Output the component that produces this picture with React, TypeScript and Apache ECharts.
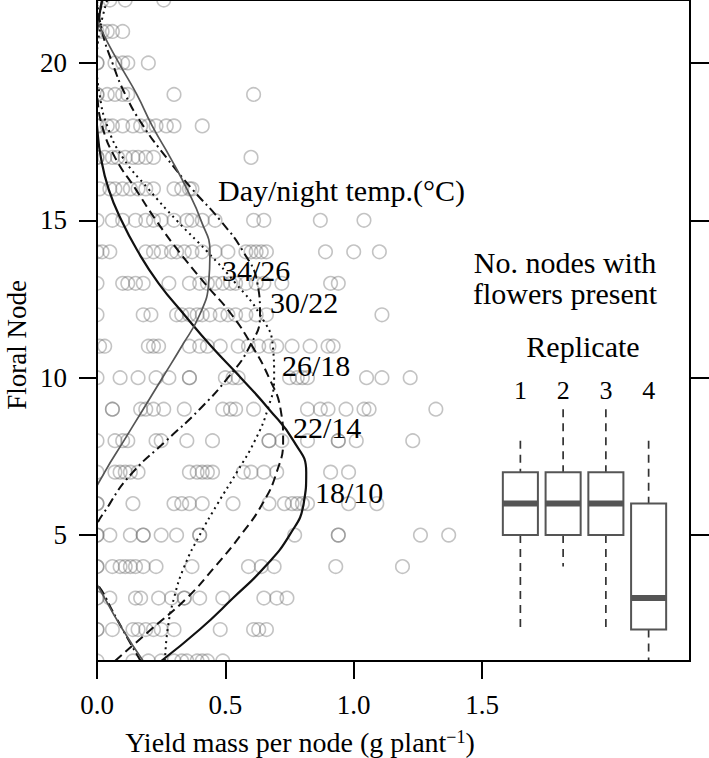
import React, { useEffect, useRef } from "react";
import * as echarts from "echarts";

// ---------- data ----------
const floralNodes = [1, 2, 3, 4, 5, 6, 7, 8, 9, 10, 11, 12, 13, 14, 15, 16, 17, 18, 19, 20, 21, 22];

// yield mass per node (g plant-1) observed at each floral node (index = node - 1)
const scatterYield: number[][] = [
  [0.0, 0.14, 0.2, 0.25, 0.3, 0.33, 0.35, 0.39, 0.41, 0.43, 0.49],
  [0.0, 0.0, 0.06, 0.14, 0.16, 0.19, 0.22, 0.25, 0.3, 0.48, 0.61, 0.63, 0.66],
  [0.0, 0.0, 0.05, 0.15, 0.17, 0.24, 0.29, 0.34, 0.34, 0.4, 0.49, 0.65, 0.7, 0.74],
  [0.0, 0.0, 0.06, 0.09, 0.11, 0.13, 0.15, 0.18, 0.23, 0.37, 0.59, 0.64, 0.69, 0.93, 1.19],
  [0.0, 0.0, 0.05, 0.13, 0.18, 0.18, 0.25, 0.31, 0.4, 0.4, 0.77, 0.94, 0.94, 1.26, 1.37],
  [0.0, 0.0, 0.14, 0.3, 0.33, 0.36, 0.41, 0.53, 0.67, 0.73, 0.76, 0.78, 0.8, 0.82, 0.98, 1.09],
  [0.0, 0.07, 0.09, 0.11, 0.13, 0.16, 0.36, 0.39, 0.41, 0.43, 0.45, 0.57, 0.6, 0.65, 0.7, 0.91, 0.98],
  [0.0, 0.07, 0.1, 0.12, 0.23, 0.25, 0.35, 0.45, 0.67, 0.67, 0.72, 0.82, 0.94, 0.94, 1.01, 1.23],
  [0.06, 0.06, 0.17, 0.19, 0.22, 0.26, 0.34, 0.49, 0.52, 0.54, 0.61, 0.82, 0.87, 0.9, 0.97, 1.04, 1.06, 1.32],
  [0.0, 0.09, 0.16, 0.23, 0.28, 0.36, 0.36, 0.5, 0.53, 0.55, 0.75, 0.78, 0.8, 0.82, 1.05, 1.11, 1.22],
  [0.01, 0.03, 0.2, 0.22, 0.24, 0.36, 0.4, 0.43, 0.48, 0.55, 0.59, 0.63, 0.67, 0.7, 0.76, 0.83, 0.9, 0.92],
  [0.0, 0.18, 0.21, 0.31, 0.33, 0.36, 0.39, 0.41, 0.44, 0.48, 0.51, 0.54, 0.58, 0.62, 0.66, 1.11],
  [0.0, 0.1, 0.12, 0.15, 0.18, 0.28, 0.36, 0.4, 0.43, 0.46, 0.49, 0.52, 0.54, 0.58, 0.62, 0.65, 0.72, 0.91, 0.94],
  [0.0, 0.02, 0.05, 0.19, 0.22, 0.25, 0.29, 0.31, 0.34, 0.37, 0.41, 0.46, 0.51, 0.58, 0.6, 0.62, 0.64, 0.66, 0.89, 1.0, 1.1],
  [0.0, 0.06, 0.1, 0.15, 0.19, 0.22, 0.25, 0.3, 0.35, 0.37, 0.41, 0.46, 0.61, 0.65, 0.87, 1.04],
  [0.01, 0.05, 0.07, 0.1, 0.13, 0.16, 0.19, 0.22, 0.3, 0.33, 0.36, 0.37],
  [0.0, 0.0, 0.03, 0.06, 0.08, 0.11, 0.14, 0.16, 0.19, 0.22, 0.6],
  [0.0, 0.01, 0.04, 0.06, 0.1, 0.14, 0.17, 0.2, 0.23, 0.27, 0.3, 0.41],
  [0.0, 0.0, 0.04, 0.07, 0.1, 0.12, 0.3, 0.61],
  [0.0, 0.0, 0.07, 0.1, 0.12, 0.2],
  [0.0, 0.02, 0.04, 0.06, 0.1],
  [0.02, 0.05, 0.11, 0.26],
];

// fitted curves: yield at each floral node (1..22), by day/night temperature
const curve18_10 = [0.25, 0.4, 0.53, 0.655, 0.75, 0.805, 0.815, 0.765, 0.67, 0.56, 0.445, 0.34, 0.24, 0.16, 0.095, 0.045, 0.015, 0.0, -0.01, -0.01, 0.0, 0.02];
const curve22_14 = [0.07, 0.21, 0.35, 0.46, 0.56, 0.645, 0.7, 0.725, 0.715, 0.67, 0.605, 0.525, 0.42, 0.32, 0.23, 0.15, 0.07, 0.02, 0.0, -0.01, 0.0, 0.02];
const curve26_18 = [0.265, 0.275, 0.3, 0.34, 0.4, 0.47, 0.545, 0.615, 0.665, 0.69, 0.685, 0.635, 0.54, 0.43, 0.31, 0.2, 0.1, 0.04, 0.01, 0.0, 0.01, 0.04];
const curve30_22 = [0.17, 0.1, 0.035, -0.02, -0.01, 0.05, 0.14, 0.27, 0.4, 0.51, 0.595, 0.635, 0.625, 0.57, 0.48, 0.37, 0.27, 0.18, 0.11, 0.06, 0.02, 0.0];
const curve34_26 = [0.18, 0.1, 0.03, -0.03, -0.05, -0.03, 0.03, 0.105, 0.18, 0.255, 0.33, 0.4, 0.435, 0.44, 0.405, 0.35, 0.285, 0.215, 0.155, 0.085, 0.02, -0.03];
const tempLabels = ["18/10", "22/14", "26/18", "30/22", "34/26"];

const xTicks = [0, 0.5, 1, 1.5];
const yTicks = [5, 10, 15, 20];

// boxplot: number of nodes with flowers present, per replicate
const replicates = ["1", "2", "3", "4"];
const boxLow = [2, 4, 2, 1];
const boxQ1 = [5, 5, 5, 2];
const boxMedian = [6, 6, 6, 3];
const boxQ3 = [7, 7, 7, 6];
const boxHigh = [8, 9, 9, 8];

const FONT = "'Liberation Serif', 'Times New Roman', serif";

export default function App() {
  const ref = useRef<HTMLDivElement>(null);

  useEffect(() => {
    document.body.style.margin = "0";
    const chart = echarts.init(ref.current as HTMLDivElement, null, { renderer: "svg" });

    const scatterData: number[][] = [];
    scatterYield.forEach((row, i) => {
      row.forEach((v) => scatterData.push([v, floralNodes[i]]));
    });

    const curves = [curve18_10, curve22_14, curve26_18, curve30_22, curve34_26];
    const curveStyles: any[] = [
      { color: "#111", width: 2.2, type: "solid" },
      { color: "#111", width: 2, type: [9, 5] },
      { color: "#111", width: 2, type: [2, 4] },
      { color: "#111", width: 2, type: [9, 4, 2, 4] },
      { color: "#555", width: 1.7, type: "solid" },
    ];

    const lineSeries = curves.map((c, k) => ({
      type: "line",
      name: tempLabels[k],
      xAxisIndex: 0,
      yAxisIndex: 0,
      data: c.map((x, i) => [x, floralNodes[i]]),
      smooth: 0.5,
      symbol: "none",
      clip: true,
      z: 3,
      silent: true,
      lineStyle: curveStyles[k],
    }));

    const option: any = {
      animation: false,
      grid: [
        { left: 97, top: 0, width: 593, height: 661, show: true, borderColor: "#000", borderWidth: 2, backgroundColor: "transparent", z: 5 },
        { left: 499, top: 0, width: 171, height: 661 },
      ],
      xAxis: [
        {
          type: "value",
          gridIndex: 0,
          min: 0,
          max: 2.31,
          z: 10,
          axisLine: { show: false },
          splitLine: { show: false },
          axisTick: { show: true, customValues: xTicks, length: 18, lineStyle: { color: "#000", width: 2 } },
          axisLabel: {
            customValues: xTicks,
            formatter: (v: number) => v.toFixed(1),
            margin: 30,
            fontSize: 27,
            fontFamily: FONT,
            color: "#000",
          },
        },
        { type: "category", gridIndex: 1, data: replicates, show: false },
      ],
      yAxis: [
        {
          type: "value",
          gridIndex: 0,
          min: 1,
          max: 22,
          z: 10,
          axisLine: { show: false },
          splitLine: { show: false },
          axisTick: { show: true, customValues: yTicks, length: 18, lineStyle: { color: "#000", width: 2 } },
          axisLabel: { customValues: yTicks, margin: 30, fontSize: 27, fontFamily: FONT, color: "#000" },
        },
        {
          type: "value",
          gridIndex: 0,
          position: "right",
          min: 1,
          max: 22,
          z: 10,
          axisLine: { show: false },
          splitLine: { show: false },
          axisTick: { show: true, customValues: yTicks, length: 19, lineStyle: { color: "#000", width: 2 } },
          axisLabel: { show: false },
        },
        { type: "value", gridIndex: 1, min: 1, max: 22, show: false },
      ],
      series: [
        {
          type: "scatter",
          xAxisIndex: 0,
          yAxisIndex: 0,
          data: scatterData,
          symbol: "circle",
          symbolSize: 13.5,
          silent: true,
          z: 2,
          itemStyle: { color: "rgba(0,0,0,0)", borderColor: "rgba(105,105,105,0.5)", borderWidth: 1.6 },
        },
        ...lineSeries,
        {
          type: "custom",
          xAxisIndex: 1,
          yAxisIndex: 2,
          z: 4,
          silent: true,
          data: replicates.map((r, i) => [i, boxLow[i], boxQ1[i], boxMedian[i], boxQ3[i], boxHigh[i]]),
          encode: { x: 0, y: [1, 2, 3, 4, 5] },
          renderItem: (params: any, api: any) => {
            const cat = api.value(0);
            const pLow = api.coord([cat, api.value(1)]);
            const pQ1 = api.coord([cat, api.value(2)]);
            const pMed = api.coord([cat, api.value(3)]);
            const pQ3 = api.coord([cat, api.value(4)]);
            const pHigh = api.coord([cat, api.value(5)]);
            const bw = api.size([1, 0])[0] * 0.82;
            const cx = pMed[0];
            const whisker = { stroke: "#333", lineWidth: 1.7, lineDash: [8, 6] };
            return {
              type: "group",
              children: [
                { type: "line", shape: { x1: cx, y1: pHigh[1], x2: cx, y2: pQ3[1] }, style: whisker },
                { type: "line", shape: { x1: cx, y1: pQ1[1], x2: cx, y2: pLow[1] }, style: whisker },
                {
                  type: "rect",
                  shape: { x: cx - bw / 2, y: pQ3[1], width: bw, height: pQ1[1] - pQ3[1] },
                  style: { fill: "#fff", stroke: "#555", lineWidth: 2 },
                },
                {
                  type: "rect",
                  shape: { x: cx - bw / 2, y: pMed[1] - 3, width: bw, height: 6 },
                  style: { fill: "#555" },
                },
                {
                  type: "text",
                  style: {
                    text: replicates[params.dataIndex],
                    x: cx,
                    y: 390,
                    align: "center",
                    verticalAlign: "middle",
                    fontSize: 26,
                    fontFamily: FONT,
                    fill: "#000",
                  },
                },
              ],
            };
          },
        },
      ],
      graphic: [
        { type: "rect", z: 4, silent: true, shape: { x: 0, y: 0, width: 96, height: 758 }, style: { fill: "#fff" } },
        { type: "rect", z: 4, silent: true, shape: { x: 0, y: 662, width: 709, height: 96 }, style: { fill: "#fff" } },
        {
          type: "text",
          z: 20,
          x: 17,
          y: 345,
          rotation: Math.PI / 2,
          style: { text: "Floral Node", fontSize: 27, fontFamily: FONT, fill: "#000", align: "center", verticalAlign: "middle" },
        },
        {
          type: "text",
          z: 20,
          x: 300,
          y: 742,
          style: {
            text: "Yield mass per node (g plant{sup|−1})",
            fontSize: 28,
            fontFamily: FONT,
            fill: "#000",
            align: "center",
            verticalAlign: "middle",
            rich: {
              sup: { fontSize: 18, fontFamily: FONT, fill: "#000", padding: [0, 0, 10, 0] },
            },
          },
        },
        { type: "text", z: 20, x: 218, y: 190, style: { text: "Day/night temp.(°C)", fontSize: 30, fontFamily: FONT, fill: "#000", verticalAlign: "middle" } },
        { type: "text", z: 20, x: 222, y: 270, style: { text: tempLabels[4], fontSize: 30, fontFamily: FONT, fill: "#000", verticalAlign: "middle" } },
        { type: "text", z: 20, x: 270, y: 302, style: { text: tempLabels[3], fontSize: 30, fontFamily: FONT, fill: "#000", verticalAlign: "middle" } },
        { type: "text", z: 20, x: 282, y: 365, style: { text: tempLabels[2], fontSize: 30, fontFamily: FONT, fill: "#000", verticalAlign: "middle" } },
        { type: "text", z: 20, x: 293, y: 427, style: { text: tempLabels[1], fontSize: 30, fontFamily: FONT, fill: "#000", verticalAlign: "middle" } },
        { type: "text", z: 20, x: 315, y: 492, style: { text: tempLabels[0], fontSize: 30, fontFamily: FONT, fill: "#000", verticalAlign: "middle" } },
        { type: "text", z: 20, x: 565, y: 262, style: { text: "No. nodes with", fontSize: 30, fontFamily: FONT, fill: "#000", align: "center", verticalAlign: "middle" } },
        { type: "text", z: 20, x: 565, y: 293, style: { text: "flowers present", fontSize: 30, fontFamily: FONT, fill: "#000", align: "center", verticalAlign: "middle" } },
        { type: "text", z: 20, x: 583, y: 346, style: { text: "Replicate", fontSize: 30, fontFamily: FONT, fill: "#000", align: "center", verticalAlign: "middle" } },
      ],
    };

    chart.setOption(option);
    return () => chart.dispose();
  }, []);

  return <div ref={ref} style={{ width: 709, height: 758 }} />;
}
